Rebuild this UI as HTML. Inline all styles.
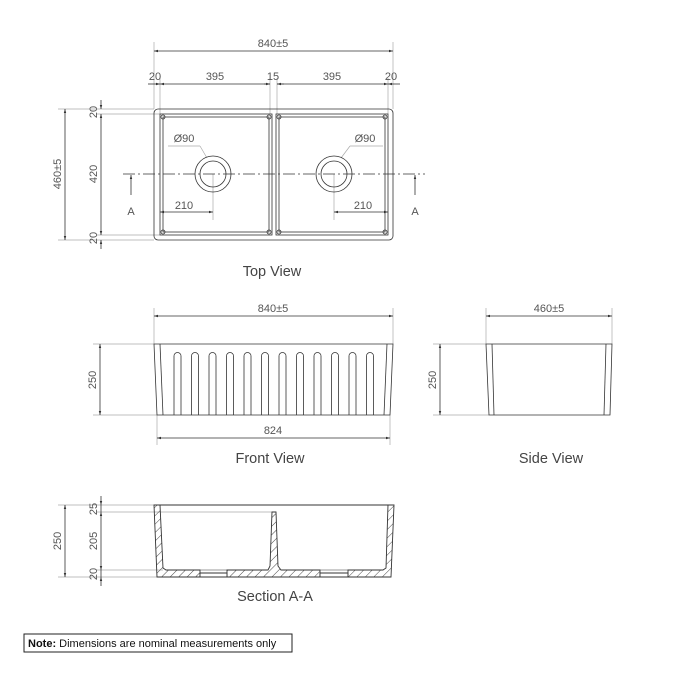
<!DOCTYPE html>
<html><head><meta charset="utf-8"><style>
html,body{margin:0;padding:0;background:#fff;width:675px;height:675px;overflow:hidden}
svg{display:block}
.t{font-family:"Liberation Sans",sans-serif;fill:#555;font-size:11px}
.L{font-family:"Liberation Sans",sans-serif;fill:#444;font-size:14.5px}
</style></head><body>
<svg width="675" height="675" viewBox="0 0 675 675" xmlns="http://www.w3.org/2000/svg">
<defs>
<marker id="a" viewBox="0 0 10 10" refX="10" refY="5" markerWidth="7" markerHeight="5" orient="auto-start-reverse"><path d="M0,2 L10,5 L0,8z" fill="#333"/></marker>
<pattern id="h" width="6" height="6" patternUnits="userSpaceOnUse" patternTransform="rotate(45)"><line x1="0" y1="0" x2="0" y2="6" stroke="#333" stroke-width="0.9"/></pattern>
</defs>
<g stroke="#aaa" stroke-width="0.7" fill="none">
<line x1="154" y1="42" x2="154" y2="109"/><line x1="393" y1="42" x2="393" y2="109"/>
<line x1="160" y1="78" x2="160" y2="114"/><line x1="270" y1="78" x2="270" y2="114"/>
<line x1="277" y1="78" x2="277" y2="114"/><line x1="388" y1="78" x2="388" y2="114"/>
<line x1="58" y1="109" x2="154" y2="109"/><line x1="96" y1="114" x2="160" y2="114"/>
<line x1="96" y1="235" x2="160" y2="235"/><line x1="58" y1="240" x2="154" y2="240"/>
<line x1="154" y1="308" x2="154" y2="344"/><line x1="393" y1="308" x2="393" y2="344"/>
<line x1="93" y1="344" x2="154" y2="344"/><line x1="93" y1="415" x2="157" y2="415"/>
<line x1="157" y1="415" x2="157" y2="445"/><line x1="390" y1="415" x2="390" y2="445"/>
<line x1="486" y1="308" x2="486" y2="344"/><line x1="612" y1="308" x2="612" y2="344"/>
<line x1="433" y1="344" x2="486" y2="344"/><line x1="433" y1="415" x2="489" y2="415"/>
<line x1="58" y1="505" x2="154" y2="505"/><line x1="96" y1="512" x2="272" y2="512"/>
<line x1="96" y1="570" x2="163" y2="570"/><line x1="58" y1="577" x2="157" y2="577"/>
<line x1="168" y1="146" x2="200" y2="146"/><line x1="200" y1="146" x2="207" y2="158"/>
<line x1="383" y1="146" x2="350" y2="146"/><line x1="350" y1="146" x2="341" y2="158"/>
<line x1="213" y1="174" x2="213" y2="220"/><line x1="334" y1="174" x2="334" y2="220"/>
</g>
<g stroke="#333" stroke-width="0.8" fill="none">
<line x1="154" y1="51" x2="393" y2="51" marker-start="url(#a)" marker-end="url(#a)"/>
<line x1="148" y1="84" x2="160" y2="84" marker-end="url(#a)"/>
<line x1="160" y1="84" x2="270" y2="84" marker-start="url(#a)" marker-end="url(#a)"/>
<line x1="264" y1="84" x2="270" y2="84"/><line x1="277" y1="84" x2="284" y2="84"/>
<line x1="277" y1="84" x2="388" y2="84" marker-start="url(#a)" marker-end="url(#a)"/>
<line x1="400" y1="84" x2="388" y2="84" marker-end="url(#a)"/>
<line x1="65" y1="109" x2="65" y2="240" marker-start="url(#a)" marker-end="url(#a)"/>
<line x1="101" y1="114" x2="101" y2="235" marker-start="url(#a)" marker-end="url(#a)"/>
<line x1="101" y1="100" x2="101" y2="109" marker-end="url(#a)"/>
<line x1="101" y1="249" x2="101" y2="240" marker-end="url(#a)"/>
<line x1="160" y1="212" x2="213" y2="212" marker-start="url(#a)" marker-end="url(#a)"/>
<line x1="334" y1="212" x2="388" y2="212" marker-start="url(#a)" marker-end="url(#a)"/>
<line x1="131" y1="195" x2="131" y2="175" marker-end="url(#a)"/>
<line x1="415" y1="195" x2="415" y2="175" marker-end="url(#a)"/>
<line x1="123" y1="174" x2="425" y2="174" stroke-dasharray="12,3,2,3" stroke-width="0.7"/>
<rect x="154" y="109" width="239" height="131" rx="4"/>
<rect x="160" y="114" width="112" height="121"/><rect x="163" y="117" width="106" height="115"/>
<rect x="276" y="114" width="112" height="121"/><rect x="279" y="117" width="106" height="115"/>
<circle cx="163" cy="117" r="2"/><circle cx="269" cy="117" r="2"/><circle cx="163" cy="232" r="2"/><circle cx="269" cy="232" r="2"/>
<circle cx="279" cy="117" r="2"/><circle cx="385" cy="117" r="2"/><circle cx="279" cy="232" r="2"/><circle cx="385" cy="232" r="2"/>
<circle cx="213" cy="174" r="18"/><circle cx="213" cy="174" r="13"/>
<circle cx="334" cy="174" r="18"/><circle cx="334" cy="174" r="13"/>
<line x1="154" y1="316" x2="393" y2="316" marker-start="url(#a)" marker-end="url(#a)"/>
<line x1="100" y1="344" x2="100" y2="415" marker-start="url(#a)" marker-end="url(#a)"/>
<line x1="157" y1="438" x2="390" y2="438" marker-start="url(#a)" marker-end="url(#a)"/>
<path d="M154,344 L393,344 L390,415 L157,415 Z"/>
<line x1="160" y1="344" x2="163" y2="415"/><line x1="387" y1="344" x2="384" y2="415"/>
<g id="fl">
<path d="M174,415 V356 a3.5,3.5 0 0 1 7,0 V415"/>
</g>
<use href="#fl" x="17.5"/><use href="#fl" x="35"/><use href="#fl" x="52.5"/><use href="#fl" x="70"/><use href="#fl" x="87.5"/><use href="#fl" x="105"/><use href="#fl" x="122.5"/><use href="#fl" x="140"/><use href="#fl" x="157.5"/><use href="#fl" x="175"/><use href="#fl" x="192.5"/>
<line x1="486" y1="316" x2="612" y2="316" marker-start="url(#a)" marker-end="url(#a)"/>
<line x1="440" y1="344" x2="440" y2="415" marker-start="url(#a)" marker-end="url(#a)"/>
<path d="M486,344 L612,344 L610,415 L489,415 Z"/>
<line x1="492" y1="344" x2="494" y2="415"/><line x1="606" y1="344" x2="604" y2="415"/>
<line x1="65" y1="505" x2="65" y2="577" marker-start="url(#a)" marker-end="url(#a)"/>
<line x1="101" y1="512" x2="101" y2="570" marker-start="url(#a)" marker-end="url(#a)"/>
<line x1="101" y1="496" x2="101" y2="505" marker-end="url(#a)"/>
<line x1="101" y1="586" x2="101" y2="577" marker-end="url(#a)"/>
<line x1="101" y1="505" x2="101" y2="512"/><line x1="101" y1="570" x2="101" y2="577"/>
</g>
<g stroke="#333" stroke-width="0.9">
<path d="M154,505 L160,505 L163,568 L166,570 L200,570 L200,577 L157,577 Z" fill="url(#h)"/>
<path d="M227,570 L268,570 L270,566 L272,512 L276,512 L278,566 L281,570 L320,570 L320,577 L227,577 Z" fill="url(#h)"/>
<path d="M348,570 L383,570 L386,568 L388,505 L394,505 L391,577 L348,577 Z" fill="url(#h)"/>
<path d="M200,573 L227,573 L227,577 L200,577 Z M320,573 L348,573 L348,577 L320,577 Z" fill="#fff"/>
<line x1="154" y1="505" x2="394" y2="505"/>
<line x1="200" y1="570" x2="227" y2="570" stroke-width="0.6"/><line x1="320" y1="570" x2="348" y2="570" stroke-width="0.6"/>
</g>
<text class="t" x="273" y="47" text-anchor="middle">840±5</text>
<text class="t" x="155" y="80" text-anchor="middle">20</text>
<text class="t" x="215" y="80" text-anchor="middle">395</text>
<text class="t" x="273" y="80" text-anchor="middle">15</text>
<text class="t" x="332" y="80" text-anchor="middle">395</text>
<text class="t" x="391" y="80" text-anchor="middle">20</text>
<text class="t" transform="translate(61,174) rotate(-90)" text-anchor="middle">460±5</text>
<text class="t" transform="translate(97,174) rotate(-90)" text-anchor="middle">420</text>
<text class="t" transform="translate(97,112) rotate(-90)" text-anchor="middle">20</text>
<text class="t" transform="translate(97,238) rotate(-90)" text-anchor="middle">20</text>
<text class="t" x="184" y="142" text-anchor="middle">Ø90</text>
<text class="t" x="365" y="142" text-anchor="middle">Ø90</text>
<text class="t" x="184" y="209" text-anchor="middle">210</text>
<text class="t" x="363" y="209" text-anchor="middle">210</text>
<text class="t" x="131" y="215" text-anchor="middle">A</text>
<text class="t" x="415" y="215" text-anchor="middle">A</text>
<text class="L" x="272" y="276" text-anchor="middle">Top View</text>
<text class="t" x="273" y="312" text-anchor="middle">840±5</text>
<text class="t" transform="translate(96,380) rotate(-90)" text-anchor="middle">250</text>
<text class="t" x="273" y="434" text-anchor="middle">824</text>
<text class="L" x="270" y="463" text-anchor="middle">Front View</text>
<text class="t" x="549" y="312" text-anchor="middle">460±5</text>
<text class="t" transform="translate(436,380) rotate(-90)" text-anchor="middle">250</text>
<text class="L" x="551" y="463" text-anchor="middle">Side View</text>
<text class="t" transform="translate(61,541) rotate(-90)" text-anchor="middle">250</text>
<text class="t" transform="translate(97,509) rotate(-90)" text-anchor="middle">25</text>
<text class="t" transform="translate(97,541) rotate(-90)" text-anchor="middle">205</text>
<text class="t" transform="translate(97,574) rotate(-90)" text-anchor="middle">20</text>
<text class="L" x="275" y="601" text-anchor="middle">Section A-A</text>
<rect x="24" y="634" width="268" height="18" fill="none" stroke="#222" stroke-width="1"/>
<text x="28" y="647" style="font-family:'Liberation Sans',sans-serif;font-size:11px;fill:#111"><tspan font-weight="bold">Note:</tspan> Dimensions are nominal measurements only</text>
</svg>
</body></html>
